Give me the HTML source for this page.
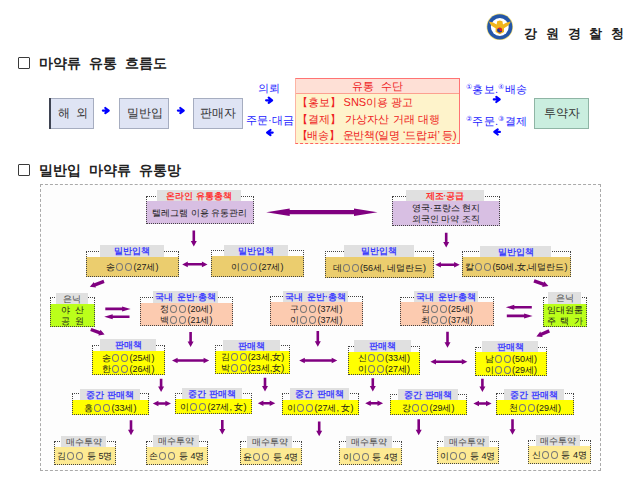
<!DOCTYPE html>
<html><head><meta charset="utf-8"><style>
*{margin:0;padding:0;box-sizing:border-box}
html,body{width:640px;height:491px;background:#fff;overflow:hidden}
body{position:relative;font-family:"Liberation Sans",sans-serif;color:#222}
.a{position:absolute;white-space:nowrap}
.bx{position:absolute;border:1px dotted #444}
.lb{position:absolute;background:#e0e0e0;text-align:center;font-size:8.6px;word-spacing:1.5px;line-height:11px;font-weight:bold;padding-top:1px}
.fl{position:absolute;text-align:center;font-size:9px;color:#1a1a1a}
.o{display:inline-block;width:7px;height:8px;border:1px solid #777;border-radius:50%;margin:0 1px 0 1px;vertical-align:-1px}
</style></head><body>

<svg class="a" style="left:486px;top:13px" width="28" height="28" viewBox="0 0 28 28"><circle cx="13.8" cy="13.8" r="13.3" fill="#f4e07a"/><circle cx="13.8" cy="13.8" r="12.6" fill="#2456a8"/><circle cx="13.8" cy="14" r="8.9" fill="#fff"/><path d="M2.8 8.6 Q7.5 9 10.6 11.6 L11.2 8.2 L13.8 7.4 L16.4 8.2 L17 11.6 Q20.1 9 24.9 8.6 Q22.5 13.6 18 15.2 L18 19 L13.8 21.2 L9.6 19 L9.6 15.2 Q5 13.6 2.8 8.6Z" fill="#f0b51c"/><circle cx="13.7" cy="17.1" r="2.5" fill="#d4202c"/><path d="M11.2 17.1 A2.5 2.5 0 0 0 16.2 17.1 A1.25 1.25 0 0 1 13.7 17.1 A1.25 1.25 0 0 0 11.2 17.1Z" fill="#1a3f9a"/></svg>
<div class="a" style="left:524px;top:25px;font-size:13px;font-weight:bold;letter-spacing:8.8px;color:#222">강원경찰청</div>
<div class="a" style="left:18px;top:57px;width:12px;height:12px;border:1.4px solid #3a3a3a;border-radius:1px"></div>
<div class="a" style="left:39px;top:55px;font-size:14px;font-weight:bold;word-spacing:4px;color:#222">마약류 유통 흐름도</div>
<div class="a" style="left:18px;top:164px;width:12px;height:12px;border:1.4px solid #3a3a3a;border-radius:1px"></div>
<div class="a" style="left:39px;top:162px;font-size:14px;font-weight:bold;word-spacing:4px;color:#222">밀반입 마약류 유통망</div>
<div class="a" style="left:49px;top:98px;width:45px;height:31px;background:#dfe4f4;border:1px solid #a6adc0;text-align:center;font-size:12px;line-height:29px;color:#333;word-spacing:3px;padding-left:3px">해 외</div>
<div class="a" style="left:119px;top:98px;width:50px;height:31px;background:#dfe4f4;border:1px solid #a6adc0;text-align:center;font-size:12px;line-height:29px;color:#333;word-spacing:3px;padding-left:1px">밀반입</div>
<div class="a" style="left:193px;top:98px;width:50px;height:31px;background:#dfe4f4;border:1px solid #a6adc0;text-align:center;font-size:12px;line-height:29px;color:#333;word-spacing:3px;padding-left:0px">판매자</div>
<div class="a" style="left:49px;top:98px;width:1.5px;height:31px;background:#3f4452"></div>
<div class="a" style="left:534px;top:98px;width:55px;height:31px;background:#caeedf;border:1px solid #8fb5a5;text-align:center;font-size:12px;line-height:29px;color:#333">투약자</div>
<div class="a" style="left:295px;top:78px;width:165px;height:66px;border:1px solid #ff7373;border-left-color:#fcb4a4;border-bottom:1px dashed #ff6060;background:#fef3cb"></div>
<div class="a" style="left:296px;top:79px;width:163px;height:15px;background:#fee0d6;border-bottom:1px solid #fca090;text-align:center;font-size:11px;line-height:15px;color:#ee2222;word-spacing:3px">유통 수단</div>
<div class="a" style="left:296.5px;top:95.0px;font-size:11px;line-height:14px;color:#ee2222;letter-spacing:0px">【홍보】 SNS이용 광고</div>
<div class="a" style="left:296.5px;top:111.5px;font-size:11px;line-height:14px;color:#ee2222;letter-spacing:0.2px">【결제】 가상자산 거래 대행</div>
<div class="a" style="left:296.5px;top:128.0px;font-size:11px;line-height:14px;color:#ee2222;letter-spacing:-0.2px">【배송】 운반책(일명 ‘드랍퍼’ 등)</div>
<div class="a" style="left:258px;top:81px;font-size:11px;color:#2222ff">의뢰</div>
<div class="a" style="left:246px;top:113px;font-size:11px;color:#2222ff">주문·대금</div>
<div class="a" style="left:466px;top:82px;font-size:11px;color:#2222ff;letter-spacing:0.3px"><span style="font-size:7px;vertical-align:4px;font-weight:normal">①</span>홍보.<span style="font-size:7px;vertical-align:4px;font-weight:normal">④</span>배송</div>
<div class="a" style="left:466px;top:114px;font-size:11px;color:#2222ff;letter-spacing:0.3px"><span style="font-size:7px;vertical-align:4px;font-weight:normal">②</span>주문.<span style="font-size:7px;vertical-align:4px;font-weight:normal">③</span>결제</div>
<svg class="a" style="left:0;top:0" width="640" height="491"><g stroke="#0000ff" stroke-width="2.2" fill="none" stroke-linecap="round" stroke-linejoin="round"><path d="M102.9 110.6H107.7M105.3 108.0L108.7 110.6L105.3 113.19999999999999" /><path d="M177.9 110.6H182.7M180.3 108.0L183.7 110.6L180.3 113.19999999999999" /><path d="M266.1 100.3H271.1M268.7 97.7L272.1 100.3L268.7 102.89999999999999" /><path d="M272.7 132.6H268.1M270.5 130.0L267.1 132.6L270.5 135.2" /><path d="M493.8 99.4H498.7M496.3 96.80000000000001L499.7 99.4L496.3 102.0" /><path d="M499.9 131.9H495.3M497.7 129.3L494.3 131.9L497.7 134.5" /></g></svg>
<div class="a" style="left:40px;top:184px;width:561px;height:287px;border:1px dashed #aaa;background:#fdfdfd"></div>
<div class="a" style="left:146px;top:201px;width:108px;height:23px;background:#d8bfe3"></div>
<div class="bx" style="left:146px;top:196px;width:108px;height:28px"></div>
<div class="lb" style="left:157px;top:190px;width:84px;height:11px;color:#ff3333;font-weight:600">온라인 유통총책</div>
<div class="fl" style="left:146px;top:202.0px;width:108px;"><div style="line-height:22px">텔레그램 이용 유통관리</div></div>
<div class="a" style="left:392px;top:201px;width:108px;height:25px;background:#d8bfe3"></div>
<div class="bx" style="left:392px;top:196px;width:108px;height:30px"></div>
<div class="lb" style="left:406px;top:190px;width:78px;height:11px;color:#ff3333;font-weight:600">제조·공급</div>
<div class="fl" style="left:392px;top:203.0px;width:108px;"><div style="line-height:11px">영국·프랑스 현지</div><div style="line-height:11px">외국인 마약 조직</div></div>
<div class="a" style="left:86px;top:257px;width:93px;height:20px;background:#ebcd6e"></div>
<div class="bx" style="left:86px;top:251px;width:93px;height:26px"></div>
<div class="lb" style="left:100px;top:245px;width:64px;height:12px;color:#4040ff;font-weight:600">밀반입책</div>
<div class="fl" style="left:86px;top:258.0px;width:93px;"><div style="line-height:19px">송<i class="o"></i><i class="o"></i>(27세)</div></div>
<div class="a" style="left:211px;top:256px;width:93px;height:21px;background:#ebcd6e"></div>
<div class="bx" style="left:211px;top:250px;width:93px;height:27px"></div>
<div class="lb" style="left:224px;top:245px;width:64px;height:11px;color:#4040ff;font-weight:600">밀반입책</div>
<div class="fl" style="left:211px;top:257.0px;width:93px;"><div style="line-height:20px">이<i class="o"></i><i class="o"></i>(27세)</div></div>
<div class="a" style="left:325px;top:257px;width:109px;height:21px;background:#ebcd6e"></div>
<div class="bx" style="left:325px;top:251px;width:109px;height:27px"></div>
<div class="lb" style="left:344px;top:245px;width:70px;height:12px;color:#4040ff;font-weight:600">밀반입책</div>
<div class="fl" style="left:325px;top:258.0px;width:109px;"><div style="line-height:20px">데<i class="o"></i><i class="o"></i>(56세, 네덜란드)</div></div>
<div class="a" style="left:462px;top:257px;width:109px;height:20px;background:#ebcd6e"></div>
<div class="bx" style="left:462px;top:251px;width:109px;height:26px"></div>
<div class="lb" style="left:480px;top:246px;width:71px;height:11px;color:#4040ff;font-weight:600">밀반입책</div>
<div class="fl" style="left:462px;top:258.0px;width:109px;"><div style="line-height:19px">칼<i class="o"></i><i class="o"></i>(50세,女,네덜란드)</div></div>
<div class="a" style="left:50px;top:304px;width:45px;height:23px;background:#bbff1a"></div>
<div class="bx" style="left:50px;top:297px;width:45px;height:30px"></div>
<div class="lb" style="left:56px;top:293px;width:32px;height:11px;color:#444;font-weight:normal">은닉</div>
<div class="fl" style="left:50px;top:305.0px;width:45px;word-spacing:2px;"><div style="line-height:11px">야 산</div><div style="line-height:11px">공 원</div></div>
<div class="a" style="left:140px;top:303px;width:93px;height:23px;background:#fccbb0"></div>
<div class="bx" style="left:140px;top:297px;width:93px;height:29px"></div>
<div class="lb" style="left:153px;top:291px;width:65px;height:12px;color:#4040ff;font-weight:600">국내 운반·총책</div>
<div class="fl" style="left:140px;top:304.0px;width:93px;"><div style="line-height:11px">정<i class="o"></i><i class="o"></i>(20세)</div><div style="line-height:11px">백<i class="o"></i><i class="o"></i>(21세)</div></div>
<div class="a" style="left:270px;top:302px;width:93px;height:24px;background:#fccbb0"></div>
<div class="bx" style="left:270px;top:296px;width:93px;height:30px"></div>
<div class="lb" style="left:283px;top:291px;width:65px;height:11px;color:#4040ff;font-weight:600">국내 운반·총책</div>
<div class="fl" style="left:270px;top:303.5px;width:93px;"><div style="line-height:11px">구<i class="o"></i><i class="o"></i>(37세)</div><div style="line-height:11px">이<i class="o"></i><i class="o"></i>(37세)</div></div>
<div class="a" style="left:400px;top:302px;width:94px;height:24px;background:#fccbb0"></div>
<div class="bx" style="left:400px;top:297px;width:94px;height:29px"></div>
<div class="lb" style="left:414px;top:291px;width:64px;height:11px;color:#4040ff;font-weight:600">국내 운반·총책</div>
<div class="fl" style="left:400px;top:303.5px;width:94px;"><div style="line-height:11px">김<i class="o"></i><i class="o"></i>(25세)</div><div style="line-height:11px">최<i class="o"></i><i class="o"></i>(37세)</div></div>
<div class="a" style="left:543px;top:304px;width:44px;height:23px;background:#bbff1a"></div>
<div class="bx" style="left:543px;top:297px;width:44px;height:30px"></div>
<div class="lb" style="left:548px;top:292px;width:33px;height:12px;color:#444;font-weight:normal">은닉</div>
<div class="fl" style="left:543px;top:305.0px;width:44px;word-spacing:2px;"><div style="line-height:11px">임대원룸</div><div style="line-height:11px">주 택 가</div></div>
<div class="a" style="left:92px;top:351px;width:73px;height:24px;background:#ffff00"></div>
<div class="bx" style="left:92px;top:345px;width:73px;height:30px"></div>
<div class="lb" style="left:100px;top:339px;width:56px;height:12px;color:#4040ff;font-weight:600">판매책</div>
<div class="fl" style="left:92px;top:352.5px;width:73px;"><div style="line-height:11px">송<i class="o"></i><i class="o"></i>(25세)</div><div style="line-height:11px">한<i class="o"></i><i class="o"></i>(26세)</div></div>
<div class="a" style="left:215px;top:351px;width:75px;height:23px;background:#ffff00"></div>
<div class="bx" style="left:215px;top:345px;width:75px;height:29px"></div>
<div class="lb" style="left:223px;top:340px;width:57px;height:11px;color:#4040ff;font-weight:600">판매책</div>
<div class="fl" style="left:215px;top:352.0px;width:75px;"><div style="line-height:11px">김<i class="o"></i><i class="o"></i>(23세,女)</div><div style="line-height:11px">박<i class="o"></i><i class="o"></i>(23세,女)</div></div>
<div class="a" style="left:348px;top:352px;width:72px;height:23px;background:#ffff00"></div>
<div class="bx" style="left:348px;top:346px;width:72px;height:29px"></div>
<div class="lb" style="left:354px;top:340px;width:57px;height:12px;color:#4040ff;font-weight:600">판매책</div>
<div class="fl" style="left:348px;top:353.0px;width:72px;"><div style="line-height:11px">신<i class="o"></i><i class="o"></i>(33세)</div><div style="line-height:11px">이<i class="o"></i><i class="o"></i>(27세)</div></div>
<div class="a" style="left:475px;top:352px;width:72px;height:24px;background:#ffff00"></div>
<div class="bx" style="left:475px;top:347px;width:72px;height:29px"></div>
<div class="lb" style="left:482px;top:341px;width:56px;height:11px;color:#4040ff;font-weight:600">판매책</div>
<div class="fl" style="left:475px;top:353.5px;width:72px;"><div style="line-height:11px">남<i class="o"></i><i class="o"></i>(50세)</div><div style="line-height:11px">이<i class="o"></i><i class="o"></i>(29세)</div></div>
<div class="a" style="left:72px;top:400px;width:77px;height:15px;background:#ffff00"></div>
<div class="bx" style="left:72px;top:393px;width:77px;height:22px"></div>
<div class="lb" style="left:80px;top:389px;width:60px;height:11px;color:#4040ff;font-weight:600">중간 판매책</div>
<div class="fl" style="left:72px;top:401.0px;width:77px;"><div style="line-height:14px">홍<i class="o"></i><i class="o"></i>(33세)</div></div>
<div class="a" style="left:175px;top:399px;width:77px;height:15px;background:#ffff00"></div>
<div class="bx" style="left:175px;top:393px;width:77px;height:21px"></div>
<div class="lb" style="left:182px;top:388px;width:60px;height:11px;color:#4040ff;font-weight:600">중간 판매책</div>
<div class="fl" style="left:175px;top:400.0px;width:77px;"><div style="line-height:14px">이<i class="o"></i><i class="o"></i>(27세, 女)</div></div>
<div class="a" style="left:282px;top:400px;width:77px;height:15px;background:#ffff00"></div>
<div class="bx" style="left:282px;top:393px;width:77px;height:22px"></div>
<div class="lb" style="left:290px;top:388px;width:59px;height:12px;color:#4040ff;font-weight:600">중간 판매책</div>
<div class="fl" style="left:282px;top:401.0px;width:77px;"><div style="line-height:14px">이<i class="o"></i><i class="o"></i>(27세, 女)</div></div>
<div class="a" style="left:390px;top:400px;width:77px;height:15px;background:#ffff00"></div>
<div class="bx" style="left:390px;top:394px;width:77px;height:21px"></div>
<div class="lb" style="left:398px;top:389px;width:60px;height:11px;color:#4040ff;font-weight:600">중간 판매책</div>
<div class="fl" style="left:390px;top:401.0px;width:77px;"><div style="line-height:14px">강<i class="o"></i><i class="o"></i>(29세)</div></div>
<div class="a" style="left:496px;top:400px;width:78px;height:15px;background:#ffff00"></div>
<div class="bx" style="left:496px;top:393px;width:78px;height:22px"></div>
<div class="lb" style="left:504px;top:389px;width:60px;height:11px;color:#4040ff;font-weight:600">중간 판매책</div>
<div class="fl" style="left:496px;top:401.0px;width:78px;"><div style="line-height:14px">천<i class="o"></i><i class="o"></i>(29세)</div></div>
<div class="a" style="left:54px;top:447px;width:62px;height:18px;background:#fdea93"></div>
<div class="bx" style="left:54px;top:441px;width:62px;height:24px"></div>
<div class="lb" style="left:61px;top:436px;width:45px;height:11px;color:#444;font-weight:normal">매수투약</div>
<div class="fl" style="left:54px;top:448.0px;width:62px;"><div style="line-height:17px">김<i class="o"></i><i class="o"></i> 등 5명</div></div>
<div class="a" style="left:146px;top:447px;width:62px;height:18px;background:#fdea93"></div>
<div class="bx" style="left:146px;top:441px;width:62px;height:24px"></div>
<div class="lb" style="left:153px;top:435px;width:46px;height:12px;color:#444;font-weight:normal">매수투약</div>
<div class="fl" style="left:146px;top:448.0px;width:62px;"><div style="line-height:17px">손<i class="o"></i><i class="o"></i> 등 4명</div></div>
<div class="a" style="left:240px;top:448px;width:62px;height:17px;background:#fdea93"></div>
<div class="bx" style="left:240px;top:441px;width:62px;height:24px"></div>
<div class="lb" style="left:247px;top:436px;width:45px;height:12px;color:#444;font-weight:normal">매수투약</div>
<div class="fl" style="left:240px;top:449.0px;width:62px;"><div style="line-height:16px">윤<i class="o"></i><i class="o"></i> 등 4명</div></div>
<div class="a" style="left:339px;top:448px;width:63px;height:17px;background:#fdea93"></div>
<div class="bx" style="left:339px;top:441px;width:63px;height:24px"></div>
<div class="lb" style="left:346px;top:436px;width:46px;height:12px;color:#444;font-weight:normal">매수투약</div>
<div class="fl" style="left:339px;top:449.0px;width:63px;"><div style="line-height:16px">이<i class="o"></i><i class="o"></i> 등 4명</div></div>
<div class="a" style="left:437px;top:447px;width:62px;height:17px;background:#fdea93"></div>
<div class="bx" style="left:437px;top:441px;width:62px;height:23px"></div>
<div class="lb" style="left:444px;top:436px;width:45px;height:11px;color:#444;font-weight:normal">매수투약</div>
<div class="fl" style="left:437px;top:448.0px;width:62px;"><div style="line-height:16px">이<i class="o"></i><i class="o"></i> 등 4명</div></div>
<div class="a" style="left:528px;top:446px;width:63px;height:18px;background:#fdea93"></div>
<div class="bx" style="left:528px;top:440px;width:63px;height:24px"></div>
<div class="lb" style="left:536px;top:435px;width:44px;height:11px;color:#444;font-weight:normal">매수투약</div>
<div class="fl" style="left:528px;top:447.0px;width:63px;"><div style="line-height:17px">신<i class="o"></i><i class="o"></i> 등 4명</div></div>
<svg class="a" style="left:0;top:0" width="640" height="491"><g fill="#800080"><polygon points="266.2,212.2 289.7,216.0 289.7,214.3 354.0,214.3 354.0,216.0 377.5,212.2 354.0,208.4 354.0,210.1 289.7,210.1 289.7,208.4"/><polygon points="192.5,230.6 192.5,240.9 190.8,240.9 193.8,246.4 196.8,240.9 195.1,240.9 195.1,230.6"/><polygon points="444.9,232.7 444.9,242.0 443.2,242.0 446.2,247.5 449.2,242.0 447.5,242.0 447.5,232.7"/><polygon points="189.3,332.0 189.3,341.5 187.6,341.5 190.6,347.0 193.6,341.5 191.9,341.5 191.9,332.0"/><polygon points="316.5,331.0 316.5,341.2 314.8,341.2 317.8,346.7 320.8,341.2 319.1,341.2 319.1,331.0"/><polygon points="446.2,331.7 446.2,342.2 444.5,342.2 447.5,347.7 450.5,342.2 448.8,342.2 448.8,331.7"/><polygon points="159.8,378.7 159.8,386.5 158.1,386.5 161.1,392.0 164.1,386.5 162.4,386.5 162.4,378.7"/><polygon points="263.7,377.7 263.7,386.0 262.0,386.0 265.0,391.5 268.0,386.0 266.3,386.0 266.3,377.7"/><polygon points="371.5,378.3 371.5,386.0 369.8,386.0 372.8,391.5 375.8,386.0 374.1,386.0 374.1,378.3"/><polygon points="481.1,378.7 481.1,386.5 479.4,386.5 482.4,392.0 485.4,386.5 483.7,386.5 483.7,378.7"/><polygon points="129.7,420.3 129.7,429.7 128.0,429.7 131.0,435.2 134.0,429.7 132.3,429.7 132.3,420.3"/><polygon points="221.0,419.9 221.0,429.0 219.3,429.0 222.3,434.5 225.3,429.0 223.6,429.0 223.6,419.9"/><polygon points="317.9,421.4 317.9,430.8 316.2,430.8 319.2,436.3 322.2,430.8 320.5,430.8 320.5,421.4"/><polygon points="417.4,419.2 417.4,429.7 415.7,429.7 418.7,435.2 421.7,429.7 420.0,429.7 420.0,419.2"/><polygon points="511.2,419.2 511.2,429.3 509.5,429.3 512.5,434.8 515.5,429.3 513.8,429.3 513.8,419.2"/><polygon points="182.2,264.4 187.8,267.2 187.8,265.6 201.9,265.6 201.9,267.2 207.5,264.4 201.9,261.6 201.9,263.1 187.8,263.1 187.8,261.6"/><polygon points="435.3,264.8 440.9,267.6 440.9,266.1 454.1,266.1 454.1,267.6 459.7,264.8 454.1,262.0 454.1,263.6 440.9,263.6 440.9,262.0"/><polygon points="172.0,360.5 177.6,363.3 177.6,361.8 203.6,361.8 203.6,363.3 209.2,360.5 203.6,357.7 203.6,359.2 177.6,359.2 177.6,357.7"/><polygon points="299.2,360.5 304.8,363.3 304.8,361.8 331.7,361.8 331.7,363.3 337.3,360.5 331.7,357.7 331.7,359.2 304.8,359.2 304.8,357.7"/><polygon points="430.4,361.7 436.0,364.5 436.0,362.9 461.8,362.9 461.8,364.5 467.4,361.7 461.8,358.9 461.8,360.4 436.0,360.4 436.0,358.9"/><polygon points="152.8,403.5 158.4,406.3 158.4,404.8 165.4,404.8 165.4,406.3 171.0,403.5 165.4,400.7 165.4,402.2 158.4,402.2 158.4,400.7"/><polygon points="257.8,403.3 263.4,406.1 263.4,404.6 269.7,404.6 269.7,406.1 275.3,403.3 269.7,400.5 269.7,402.1 263.4,402.1 263.4,400.5"/><polygon points="365.2,403.3 370.8,406.1 370.8,404.6 377.5,404.6 377.5,406.1 383.1,403.3 377.5,400.5 377.5,402.1 370.8,402.1 370.8,400.5"/><polygon points="473.4,403.5 479.0,406.3 479.0,404.8 486.0,404.8 486.0,406.3 491.6,403.5 486.0,400.7 486.0,402.2 479.0,402.2 479.0,400.7"/><polygon points="105.3,310.2 122.1,310.2 122.1,311.4 130.6,308.9 122.1,306.4 122.1,307.6 105.3,307.6"/><polygon points="129.5,315.4 112.7,315.4 112.7,314.2 104.2,316.7 112.7,319.2 112.7,318.0 129.5,318.0"/><polygon points="531.8,306.0 514.3,306.0 514.3,304.8 505.8,307.3 514.3,309.8 514.3,308.6 531.8,308.6"/><polygon points="506.8,317.2 524.1,317.2 524.1,318.4 532.6,315.9 524.1,313.4 524.1,314.6 506.8,314.6"/><polygon points="103.4,279.8 94.3,283.3 93.9,282.0 89.8,286.8 96.0,287.6 95.5,286.4 104.6,283.0"/><polygon points="533.4,282.4 542.6,285.7 542.2,287.0 548.4,286.0 544.2,281.3 543.8,282.5 534.6,279.2"/><polygon points="90.2,331.1 98.8,334.2 98.4,335.4 104.6,334.5 100.5,329.8 100.0,331.0 91.4,327.9"/><polygon points="548.6,329.3 540.8,332.7 540.3,331.5 536.4,336.4 542.6,337.0 542.1,335.8 550.0,332.5"/></g></svg>
</body></html>
